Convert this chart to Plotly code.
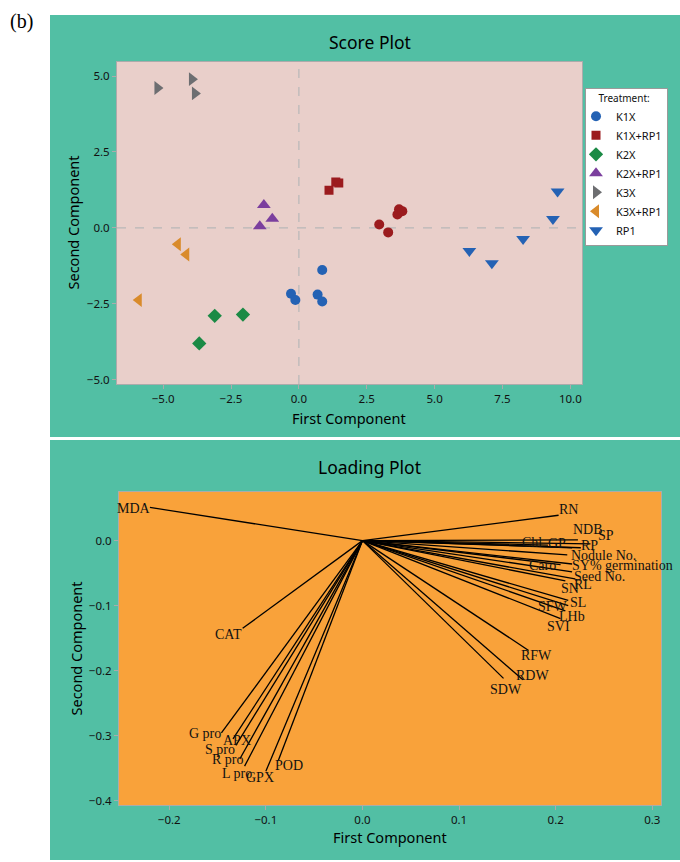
import plotly.graph_objects as go

W, H = 680, 862

# ---------------- Score plot data (PC1, PC2) ----------------
k1x_pc1 = [0.86, -0.29, -0.13, 0.69, 0.86]
k1x_pc2 = [-1.39, -2.17, -2.38, -2.20, -2.43]
k1xrp1_pc1 = [1.11, 1.36, 1.47]
k1xrp1_pc2 = [1.24, 1.51, 1.48]
k1xrp1c_pc1 = [2.96, 3.29, 3.69, 3.63, 3.81]
k1xrp1c_pc2 = [0.11, -0.15, 0.61, 0.44, 0.55]
k2x_pc1 = [-3.10, -2.06, -3.67]
k2x_pc2 = [-2.90, -2.86, -3.81]
k2xrp1_pc1 = [-1.29, -0.98, -1.44]
k2xrp1_pc2 = [0.75, 0.30, 0.05]
k3x_pc1 = [-5.21, -3.94, -3.83]
k3x_pc2 = [4.61, 4.90, 4.43]
k3xrp1_pc1 = [-4.46, -4.15, -5.90]
k3xrp1_pc2 = [-0.54, -0.88, -2.38]
rp1_pc1 = [9.53, 9.36, 8.26, 6.28, 7.11]
rp1_pc2 = [1.20, 0.29, -0.37, -0.76, -1.17]

score_xticks = [-5.0, -2.5, 0.0, 2.5, 5.0, 7.5, 10.0]
score_yticks = [-5.0, -2.5, 0.0, 2.5, 5.0]

# ---------------- Loading plot data ----------------
variables = ["MDA", "CAT", "G pro", "APX", "S pro", "R pro", "L pro", "GPX", "POD",
             "RN", "NDB", "SP", "RP", "Chl", "GP", "Nodule No.", "Caro",
             "SY% germination", "Seed No.", "RL", "SN", "SL", "SFW", "LHb",
             "SVI", "RFW", "RDW", "SDW"]
load_pc1 = [-0.220, -0.124, -0.146, -0.134, -0.131, -0.127, -0.122, -0.100, -0.087,
            0.203, 0.223, 0.236, 0.226, 0.192, 0.217, 0.212, 0.205,
            0.217, 0.217, 0.220, 0.210, 0.213, 0.213, 0.210,
            0.205, 0.172, 0.166, 0.146]
load_pc2 = [0.051, -0.135, -0.296, -0.305, -0.315, -0.336, -0.347, -0.355, -0.338,
            0.039, 0.001, -0.005, -0.011, -0.007, -0.011, -0.022, -0.037,
            -0.036, -0.048, -0.059, -0.062, -0.092, -0.100, -0.108,
            -0.120, -0.169, -0.214, -0.212]
load_xticks = [-0.2, -0.1, 0.0, 0.1, 0.2, 0.3]
load_yticks = [-0.4, -0.3, -0.2, -0.1, 0.0]

# label offsets (screen px: right, down) - styling only
label_dx = [-16, -14, -16, 4, -16, -12, -8, -6, 11,
            10, 10, 16, 9, -16, -15, 36, -18,
            50, 27, 8, 5, 10, -15, 7,
            -2, 8, 10, 2]
label_dy = [1, 6, 1, 2, 4, 1, 7, 6, 5,
            -6, -10, -8, -2, -3, -4, 1, 1,
            2, 5, 6, 8, 2, 1, 6,
            8, 5, -4, 11]

GREEN = "#52BFA4"
PINK = "#E9CFCA"
ORANGE = "#F9A23A"
FRAME = "#ABABAB"
SANS = "Noto Sans"
SERIF = "Liberation Serif"

fig = go.Figure()

groups = [
    ("K1X", k1x_pc1, k1x_pc2, "circle", "#2462B4", 10, True),
    ("K1X+RP1", k1xrp1_pc1, k1xrp1_pc2, "square", "#9B1B1E", 9, True),
    ("K2X", k2x_pc1, k2x_pc2, "diamond", "#1B8A45", 11, True),
    ("K2X+RP1", k2xrp1_pc1, k2xrp1_pc2, "triangle-up", "#7B3F9E", 12, True),
    ("K3X", k3x_pc1, k3x_pc2, "triangle-right", "#6D6E71", 12, True),
    ("K3X+RP1", k3xrp1_pc1, k3xrp1_pc2, "triangle-left", "#D98B2B", 12, True),
    ("RP1", rp1_pc1, rp1_pc2, "triangle-down", "#2462B4", 12, True),
    ("K1X+RP1 ", k1xrp1c_pc1, k1xrp1c_pc2, "circle", "#9B1B1E", 10, False),
]
for name, xs, ys, sym, col, sz, leg in groups:
    fig.add_trace(go.Scatter(x=xs, y=ys, mode="markers", name=name, showlegend=leg,
                             marker=dict(symbol=sym, color=col, size=sz, line=dict(width=0)),
                             xaxis="x", yaxis="y"))

# loading vectors
lx, ly = [], []
for a, b in zip(load_pc1, load_pc2):
    lx += [0, a, None]
    ly += [0, b, None]
fig.add_trace(go.Scatter(x=lx, y=ly, mode="lines", line=dict(color="black", width=1.3),
                         showlegend=False, xaxis="x2", yaxis="y2", hoverinfo="skip"))

annotations = []
for v, a, b, dx, dy in zip(variables, load_pc1, load_pc2, label_dx, label_dy):
    annotations.append(dict(x=a, y=b, xref="x2", yref="y2", text=v, showarrow=False,
                            xanchor="center", yanchor="middle",
                            xshift=dx, yshift=-dy,
                            font=dict(family=SERIF, size=14, color="#111")))

def px(x):
    return x / W

def py(y):
    return 1 - y / H

def note(x, y, text, size, family=SANS, angle=0, xanchor="center"):
    return dict(x=px(x), y=py(y), xref="paper", yref="paper", text=text, showarrow=False,
                xanchor=xanchor, yanchor="middle", textangle=angle,
                font=dict(family=family, size=size, color="black"))

annotations += [
    note(8, 22, "(b)", 20, family=SERIF, xanchor="left"),
    note(370, 42, "Score Plot", 17.5),
    note(349, 419, "First Component", 14.5),
    note(73, 223, "Second Component", 14.5, angle=-90),
    note(369, 468, "Loading Plot", 17.5),
    note(390, 839, "First Component", 14.5),
    note(76, 650, "Second Component", 14.5, angle=-90),
]

shapes = [
    dict(type="rect", xref="paper", yref="paper", x0=px(50), x1=1.0, y0=py(438), y1=py(15),
         fillcolor=GREEN, line=dict(width=0), layer="below"),
    dict(type="rect", xref="paper", yref="paper", x0=px(50), x1=1.0, y0=0, y1=py(441),
         fillcolor=GREEN, line=dict(width=0), layer="below"),
    dict(type="rect", xref="x domain", yref="y domain", x0=0, x1=1, y0=0, y1=1,
         fillcolor=PINK, line=dict(width=0), layer="below"),
    dict(type="rect", xref="x2 domain", yref="y2 domain", x0=0, x1=1, y0=0, y1=1,
         fillcolor=ORANGE, line=dict(width=0), layer="below"),
    dict(type="line", xref="x", yref="y domain", x0=0, x1=0, y0=0, y1=1,
         line=dict(color="#B8B8B8", width=1.2, dash="dash"), layer="below"),
    dict(type="line", xref="x domain", yref="y", x0=0, x1=1, y0=0, y1=0,
         line=dict(color="#B8B8B8", width=1.2, dash="dash"), layer="below"),
]

axis_common = dict(showgrid=False, zeroline=False, showline=True, mirror=True,
                   linecolor=FRAME, linewidth=1, ticks="outside", ticklen=4,
                   tickcolor=FRAME, tickfont=dict(family=SANS, size=11.5, color="#111"),
                   tickformat=".1f")

fig.update_layout(
    width=W, height=H, margin=dict(l=0, r=0, t=0, b=0),
    paper_bgcolor="white", plot_bgcolor="rgba(0,0,0,0)",
    xaxis=dict(domain=[px(117), px(582)], range=[-6.7, 10.43], tickvals=score_xticks,
               anchor="y", **axis_common),
    yaxis=dict(domain=[py(385), py(62)], range=[-5.15, 5.47], tickvals=score_yticks,
               anchor="x", **axis_common),
    xaxis2=dict(domain=[px(119), px(661)], range=[-0.252, 0.309], tickvals=load_xticks,
                anchor="y2", **axis_common),
    yaxis2=dict(domain=[py(807), py(493)], range=[-0.407, 0.075], tickvals=load_yticks,
                anchor="x2", **axis_common),
    legend=dict(x=px(585), y=py(88), xanchor="left", yanchor="top", bgcolor="white",
                bordercolor="#9A9A9A", borderwidth=1, indentation=-10,
                font=dict(family=SANS, size=11, color="#111"),
                title=dict(text="&nbsp;&nbsp;&nbsp;&nbsp;Treatment:",
                           font=dict(family=SANS, size=10, color="#111")),
                tracegroupgap=0),
    annotations=annotations, shapes=shapes,
)

fig.write_html("out.html", config={"displayModeBar": False},
               post_script="document.body.style.margin='0px';")
